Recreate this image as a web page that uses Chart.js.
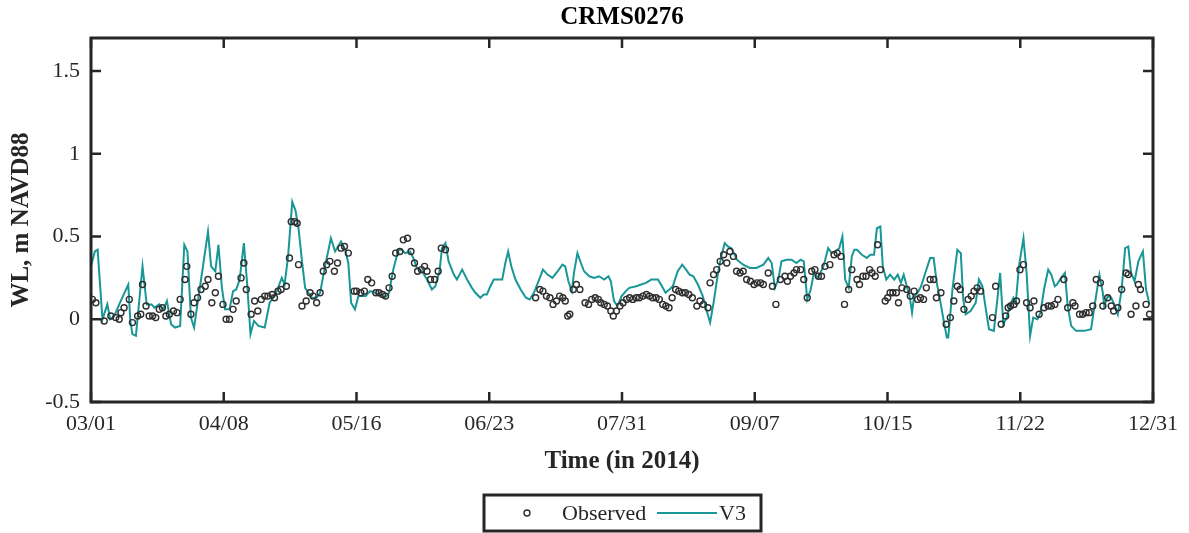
<!DOCTYPE html>
<html>
<head>
<meta charset="utf-8">
<script src="https://cdn.jsdelivr.net/npm/chart.js@4.4.1/dist/chart.umd.min.js"></script>
<style>
  html, body { margin: 0; padding: 0; background: #fff; }
</style>
</head>
<body>
<canvas id="wl" width="1189" height="533"></canvas>
<script>
// days since 03/01/2014 and water level (m NAVD88)
const obsDay = [0.4,1.4,3.8,5.7,7.1,8.1,8.6,9.5,11.0,11.9,13.4,14.3,14.8,15.8,16.7,17.7,18.6,19.6,20.5,21.5,22.5,23.7,24.7,25.6,27.0,27.5,28.7,29.6,30.6,31.6,32.8,33.6,34.7,35.7,36.6,37.9,38.8,39.8,40.8,41.7,43.1,43.9,44.6,46.0,47.0,47.9,48.9,49.9,50.8,52.0,52.7,53.7,54.6,56.1,57.0,57.5,58.5,59.2,59.6,60.6,61.8,62.9,63.8,64.8,65.8,66.7,67.7,68.6,69.9,70.8,71.8,72.8,73.9,75.6,76.3,77.5,78.5,79.5,80.6,81.8,82.7,83.7,84.6,85.6,86.5,87.5,88.7,89.7,90.9,91.9,92.9,93.8,94.9,95.8,96.5,97.5,98.7,99.7,100.6,101.8,
  127.7,128.9,129.8,130.8,131.8,132.7,133.7,134.6,135.5,136.2,136.9,137.5,138.5,139.4,140.4,141.9,142.9,143.8,144.8,145.7,146.4,147.4,148.3,149.3,150.0,150.9,151.9,152.8,153.8,154.7,155.6,156.6,157.5,158.5,159.5,160.4,161.3,162.3,163.2,164.2,165.1,166.0,166.9,167.9,168.8,169.8,170.7,171.7,172.7,174.0,174.9,175.9,177.2,177.8,178.8,179.7,180.7,181.7,182.6,183.5,184.5,185.4,186.4,187.3,188.3,189.4,190.4,191.3,192.3,193.1,194.5,195.7,196.7,198.0,199.3,200.0,200.9,201.9,202.6,203.8,204.7,205.7,207.0,207.9,208.9,209.8,210.8,212.2,213.4,214.3,215.4,216.4,217.6,218.5,220.0,220.7,221.7,222.6,223.6,224.3,225.2,225.9,226.7,228.1,228.8,229.5,230.3,231.3,231.9,232.9,234.3,235.3,236.4,237.4,238.2,239.1,239.9,241.0,242.0,242.8,244.1,245.6,246.8,247.8,248.8,249.6,250.7,251.9,252.8,253.6,254.5,255.5,258.9,259.8,261.4,262.7,263.4,264.1,265.1,265.8,266.8,267.8,268.7,269.7,270.8,272.3,273.7,274.9,275.8,276.8,277.7,279.4,280.5,282.0,282.6,283.9,284.8,285.8,286.7,287.7,288.7,289.9,290.6,292.0,293.0,293.7,294.9,296.0,297.3,297.9,298.7,300.1,300.8,301.4,303.0,304.0];
const obsVal = [0.12,0.10,-0.01,0.02,0.01,0.00,0.04,0.07,0.12,-0.02,0.02,0.03,0.21,0.08,0.02,0.02,0.01,0.06,0.07,0.02,0.03,0.05,0.04,0.12,0.24,0.32,0.03,0.10,0.13,0.18,0.20,0.24,0.10,0.16,0.26,0.09,0.00,0.00,0.06,0.11,0.25,0.34,0.18,0.03,0.11,0.05,0.12,0.14,0.14,0.15,0.13,0.17,0.18,0.20,0.37,0.59,0.59,0.58,0.33,0.08,0.11,0.16,0.14,0.10,0.16,0.29,0.33,0.35,0.29,0.34,0.43,0.44,0.40,0.17,0.17,0.16,0.17,0.24,0.22,0.16,0.16,0.15,0.14,0.19,0.26,0.40,0.41,0.48,0.49,0.41,0.34,0.29,0.30,0.32,0.29,0.24,0.24,0.29,0.43,0.42,
  0.13,0.18,0.17,0.14,0.13,0.09,0.11,0.14,0.13,0.11,0.02,0.03,0.18,0.21,0.18,0.10,0.09,0.12,0.13,0.12,0.10,0.09,0.08,0.05,0.02,0.05,0.08,0.10,0.12,0.13,0.12,0.13,0.13,0.14,0.15,0.14,0.13,0.13,0.12,0.09,0.08,0.07,0.13,0.18,0.17,0.16,0.16,0.15,0.13,0.08,0.11,0.09,0.07,0.22,0.27,0.30,0.35,0.39,0.34,0.41,0.38,0.29,0.28,0.29,0.24,0.23,0.21,0.22,0.22,0.21,0.28,0.20,0.09,0.24,0.26,0.23,0.26,0.28,0.30,0.30,0.24,0.13,0.29,0.30,0.26,0.26,0.32,0.33,0.39,0.40,0.38,0.09,0.18,0.30,0.24,0.21,0.26,0.26,0.30,0.28,0.26,0.45,0.30,0.11,0.13,0.16,0.16,0.16,0.10,0.19,0.18,0.14,0.17,0.12,0.13,0.12,0.19,0.24,0.24,0.13,0.16,-0.03,0.01,0.11,0.20,0.18,0.06,0.12,0.14,0.17,0.19,0.17,0.01,0.20,-0.03,0.02,0.07,0.08,0.09,0.11,0.30,0.33,0.10,0.07,0.11,0.03,0.07,0.08,0.08,0.09,0.12,0.24,0.07,0.10,0.08,0.03,0.03,0.04,0.04,0.08,0.24,0.22,0.08,0.13,0.08,0.05,0.07,0.18,0.28,0.27,0.03,0.08,0.21,0.18,0.09,0.03];

const v3Day = [0,1.1,1.9,3.3,4.7,5.5,6.7,8.1,10.7,11.3,11.9,12.9,14.8,16.0,17.4,18.2,19.6,20.8,21.8,23.0,24.1,25.6,26.8,27.7,28.7,29.6,33.6,34.5,35.7,36.6,37.6,38.5,39.8,40.8,41.7,42.7,43.9,44.9,45.8,46.8,48.1,49.9,51.3,52.7,53.7,54.8,55.6,56.6,57.8,58.7,59.6,60.6,61.5,63.4,64.8,65.8,67.2,68.9,70.1,71.8,73.0,73.9,74.7,75.8,76.8,77.7,78.9,80.1,81.6,83.0,84.4,85.6,86.8,88.3,89.2,90.2,91.6,92.6,93.6,95.1,96.5,97.9,98.9,100.1,100.8,101.8,102.7,104.2,105.1,106.6,108.0,109.4,110.4,111.8,112.8,113.7,114.7,115.7,116.9,118.1,119.0,119.8,120.7,121.9,123.4,124.9,126.0,127.2,128.7,129.8,131.1,132.5,134.0,135.4,136.2,137.1,138.1,138.7,139.7,140.7,141.6,143.1,144.5,145.9,147.4,148.6,149.3,150.2,151.2,152.4,153.6,154.6,156.6,158.0,159.4,160.9,162.8,163.7,165.0,166.1,167.1,168.5,169.8,170.9,171.9,173.0,174.3,175.7,176.7,177.8,178.8,180.0,181.0,182.0,182.9,183.9,185.5,187.3,189.2,191.1,193.1,194.5,195.5,196.4,197.4,198.3,199.8,201.2,202.6,203.8,204.7,205.7,206.7,207.6,208.6,209.3,210.5,211.7,212.7,213.9,214.9,215.8,216.6,217.6,218.5,219.2,220.0,221.4,222.8,223.8,224.9,225.7,226.7,227.4,228.4,229.5,230.7,231.7,232.6,233.4,234.3,235.1,235.8,236.4,237.4,238.4,239.6,241.0,242.0,242.9,243.9,244.9,245.8,246.2,247.4,248.8,249.8,250.5,251.2,252.6,254.1,255.0,256.0,257.0,257.9,259.3,260.3,261.1,262.0,263.0,264.0,264.9,265.6,266.5,267.8,268.7,269.7,270.6,271.8,272.7,273.7,274.9,275.8,276.8,277.4,278.6,279.7,280.5,281.5,282.9,285.3,287.2,288.2,289.6,290.6,291.0,292.0,293.0,293.9,294.9,296.0,297.0,297.9,298.7,299.7,300.8,302.1,303.0,304.0];
const v3Val = [0.32,0.41,0.42,0.00,0.09,0.00,0.02,0.09,0.21,-0.01,-0.09,-0.10,0.32,0.09,0.09,0.07,0.09,0.06,0.11,-0.03,-0.05,-0.04,0.45,0.41,0.01,-0.05,0.53,0.32,0.29,0.45,0.19,0.06,0.06,0.17,0.18,0.24,0.46,0.20,-0.09,-0.01,-0.04,-0.05,0.10,0.14,0.19,0.25,0.21,0.38,0.71,0.66,0.55,0.35,0.19,0.13,0.13,0.16,0.32,0.49,0.41,0.47,0.42,0.34,0.10,0.06,0.14,0.14,0.14,0.17,0.16,0.15,0.13,0.16,0.30,0.42,0.42,0.40,0.41,0.37,0.31,0.29,0.24,0.18,0.20,0.29,0.43,0.46,0.35,0.27,0.24,0.30,0.24,0.19,0.16,0.13,0.15,0.15,0.20,0.24,0.24,0.24,0.34,0.41,0.32,0.24,0.18,0.13,0.12,0.16,0.24,0.30,0.27,0.25,0.29,0.33,0.32,0.23,0.17,0.28,0.40,0.34,0.29,0.26,0.25,0.26,0.24,0.26,0.23,0.11,0.08,0.14,0.17,0.19,0.20,0.21,0.22,0.24,0.24,0.21,0.16,0.18,0.20,0.29,0.33,0.30,0.27,0.26,0.21,0.14,0.06,-0.02,0.10,0.27,0.38,0.46,0.44,0.43,0.36,0.33,0.31,0.31,0.33,0.37,0.34,0.19,0.24,0.35,0.36,0.36,0.34,0.36,0.35,0.12,0.18,0.28,0.25,0.27,0.33,0.43,0.40,0.41,0.43,0.50,0.24,0.19,0.38,0.42,0.42,0.39,0.37,0.39,0.39,0.55,0.56,0.32,0.24,0.27,0.24,0.27,0.22,0.27,0.20,0.14,0.04,0.14,0.16,0.20,0.28,0.37,0.37,0.22,0.11,-0.01,-0.11,-0.11,0.18,0.42,0.40,0.12,0.03,0.05,0.10,0.24,0.20,0.06,-0.06,-0.07,0.12,0.28,-0.03,0.01,0.09,0.13,0.10,0.32,0.49,0.28,-0.10,0.01,0.00,0.04,0.18,0.30,0.27,0.20,0.21,0.25,0.28,0.08,-0.04,-0.07,-0.07,-0.06,0.08,0.27,0.16,0.08,0.14,0.13,0.09,0.03,0.18,0.43,0.44,0.28,0.23,0.35,0.41,0.18,0.09];

const xTickDays = [0, 38.125, 76.25, 114.375, 152.5, 190.625, 228.75, 266.875, 305];
const xTickLabels = ['03/01', '04/08', '05/16', '06/23', '07/31', '09/07', '10/15', '11/22', '12/31'];
const yTicks = [-0.5, 0, 0.5, 1, 1.5];

const INK = '#262626';
const TEAL = '#199696';
const DOT = '#2e2e2e';
const SERIF = '"Liberation Serif", "Times New Roman", serif';

// title over the plot, box round the plot, inward ticks, boxed legend
const frame = {
  id: 'frame',
  afterDatasetsDraw(chart) {
    const { ctx, chartArea: a, scales: { x, y } } = chart;
    ctx.save();
    ctx.fillStyle = '#000';
    ctx.font = 'bold 25px ' + SERIF;
    ctx.textAlign = 'center';
    ctx.textBaseline = 'middle';
    ctx.fillText('CRMS0276', (a.left + a.right) / 2, 18);

    ctx.strokeStyle = INK;
    ctx.lineWidth = 3;
    ctx.strokeRect(a.left, a.top, a.right - a.left, a.bottom - a.top);

    ctx.lineWidth = 2.5;
    ctx.beginPath();
    xTickDays.forEach(d => {
      const px = x.getPixelForValue(d);
      ctx.moveTo(px, a.bottom); ctx.lineTo(px, a.bottom - 10);
      ctx.moveTo(px, a.top); ctx.lineTo(px, a.top + 10);
    });
    yTicks.forEach(v => {
      const py = y.getPixelForValue(v);
      ctx.moveTo(a.left, py); ctx.lineTo(a.left + 10, py);
      ctx.moveTo(a.right, py); ctx.lineTo(a.right - 10, py);
    });
    ctx.stroke();

    // legend
    const ly = 513;
    ctx.lineWidth = 3;
    ctx.strokeRect(484, 495, 277, 36);
    ctx.lineWidth = 1.4;
    ctx.strokeStyle = DOT;
    ctx.beginPath();
    ctx.arc(527, ly, 3, 0, Math.PI * 2);
    ctx.stroke();
    ctx.strokeStyle = TEAL;
    ctx.lineWidth = 2;
    ctx.beginPath();
    ctx.moveTo(657, ly); ctx.lineTo(717, ly);
    ctx.stroke();
    ctx.fillStyle = INK;
    ctx.font = '22px ' + SERIF;
    ctx.textAlign = 'left';
    ctx.fillText('Observed', 562, ly + 1);
    ctx.fillText('V3', 719, ly + 1);
    ctx.restore();
  }
};

new Chart(document.getElementById('wl'), {
  type: 'scatter',
  data: {
    datasets: [
      {
        label: 'Observed',
        data: obsDay.map((d, i) => ({ x: d, y: obsVal[i] })),
        showLine: false,
        pointRadius: 3,
        pointBorderWidth: 1.4,
        pointBorderColor: DOT,
        pointBackgroundColor: 'rgba(255,255,255,0)'
      },
      {
        label: 'V3',
        data: v3Day.map((d, i) => ({ x: d, y: v3Val[i] })),
        showLine: true,
        borderColor: TEAL,
        borderWidth: 2,
        pointRadius: 0,
        tension: 0
      }
    ]
  },
  options: {
    responsive: false,
    animation: false,
    devicePixelRatio: 1,
    layout: { padding: { left: 0, right: 36, top: 38, bottom: 56 } },
    plugins: {
      legend: { display: false },
      tooltip: { enabled: false },
      title: { display: false }
    },
    scales: {
      x: {
        type: 'linear',
        min: 0,
        max: 305,
        afterBuildTicks: s => { s.ticks = xTickDays.map(v => ({ value: v })); },
        afterFit: s => { s.height = 75; },
        ticks: {
          callback: (v, i) => xTickLabels[i],
          color: INK,
          font: { family: SERIF, size: 22 },
          padding: 9,
          maxRotation: 0,
          autoSkip: false
        },
        grid: { display: false, drawTicks: false },
        border: { display: false },
        title: {
          display: true,
          text: 'Time (in 2014)',
          color: INK,
          font: { family: SERIF, size: 25, weight: 'bold' },
          padding: 0
        }
      },
      y: {
        type: 'linear',
        min: -0.5,
        max: 1.7,
        afterBuildTicks: s => { s.ticks = yTicks.map(v => ({ value: v })); },
        afterFit: s => { s.width = 91; },
        ticks: {
          callback: v => String(v),
          color: INK,
          font: { family: SERIF, size: 22 },
          padding: 11
        },
        grid: { display: false, drawTicks: false },
        border: { display: false },
        title: {
          display: true,
          text: 'WL, m NAVD88',
          color: INK,
          font: { family: SERIF, size: 25, weight: 'bold' },
          padding: { top: 7, bottom: 0 }
        }
      }
    }
  },
  plugins: [frame]
});
</script>
</body>
</html>
